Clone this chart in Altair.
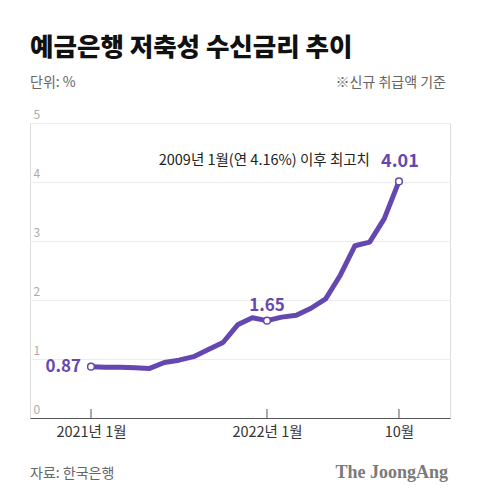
import altair as alt
import pandas as pd

# ---- data ----
months = ["2021-01", "2021-02", "2021-03", "2021-04", "2021-05", "2021-06",
          "2021-07", "2021-08", "2021-09", "2021-10", "2021-11", "2021-12",
          "2022-01", "2022-02", "2022-03", "2022-04", "2022-05", "2022-06",
          "2022-07", "2022-08", "2022-09", "2022-10"]
rates = [0.87, 0.86, 0.86, 0.85, 0.84, 0.94, 0.98, 1.04, 1.16, 1.28, 1.58, 1.70,
         1.65, 1.71, 1.74, 1.86, 2.02, 2.42, 2.92, 2.98, 3.38, 4.01]
tick_months = ["2021-01", "2022-01", "2022-10"]
tick_labels = ["2021년 1월", "2022년 1월", "10월"]
marked_months = ["2021-01", "2022-01", "2022-10"]
marked_labels = ["0.87", "1.65", "4.01"]
y_ticks = [0, 1, 2, 3, 4, 5]

title_text = "예금은행 저축성 수신금리 추이"
unit_text = "단위: %"
note_text = "※신규 취급액 기준"
peak_note = "2009년 1월(연 4.16%) 이후 최고치"
source_text = "자료: 한국은행"
logo_text = "The JoongAng"

PURPLE = "#6447b0"
FONT = "Noto Sans CJK KR"

df = pd.DataFrame({"month": months, "rate": rates})
df["idx"] = range(len(months))
idx_of = {m: i for i, m in enumerate(months)}

tick_vals = [idx_of[m] for m in tick_months]
label_expr = " : ".join(
    [f"datum.value == {v} ? '{l}'" for v, l in zip(tick_vals, tick_labels)]
) + " : ''"

marks_df = pd.DataFrame({
    "idx": [idx_of[m] for m in marked_months],
    "rate": [rates[idx_of[m]] for m in marked_months],
    "label": marked_labels,
})
ticks_df = pd.DataFrame({"idx": tick_vals})

W, H = 420, 295
x_scale = alt.Scale(domain=[-4.16, 24.48], nice=False, zero=False)
y_scale = alt.Scale(domain=[0, 5], nice=False)

x_enc = alt.X("idx:Q", scale=x_scale, title=None,
              axis=alt.Axis(values=tick_vals, labelExpr=label_expr, grid=False,
                            ticks=False, tickSize=0, domainColor="#555555",
                            domainWidth=1.2, labelColor="#333333", labelFontSize=14.5,
                            labelFont=FONT, labelPadding=7))
y_enc = alt.Y("rate:Q", scale=y_scale, title=None,
              axis=alt.Axis(values=y_ticks, format="d", grid=True, gridColor="#ececec",
                            gridWidth=1, domain=False, ticks=False, tickSize=0,
                            labelAlign="left", labelBaseline="bottom",
                            labelPadding=-3, labelOffset=-2, labelColor="#aaaaaa",
                            labelFontSize=12, labelFont=FONT))

line = alt.Chart(df).mark_line(color=PURPLE, strokeWidth=5, strokeJoin="round",
                               strokeCap="round").encode(x=x_enc, y=y_enc)

tick_rules = alt.Chart(ticks_df).mark_rule(color="#555555", strokeWidth=1).encode(
    x=alt.X("idx:Q", scale=x_scale), y=alt.value(H - 9), y2=alt.value(H))

pts = alt.Chart(marks_df).mark_point(filled=True, fill="white", stroke=PURPLE,
                                     strokeWidth=1.5, size=45, opacity=1).encode(
    x=alt.X("idx:Q", scale=x_scale), y=alt.Y("rate:Q", scale=y_scale))

lbl_087 = alt.Chart(marks_df.iloc[[0]]).mark_text(
    align="right", baseline="middle", dx=-10, dy=0, font=FONT, fontSize=17,
    fontWeight="bold", color=PURPLE).encode(
    x=alt.X("idx:Q", scale=x_scale), y=alt.Y("rate:Q", scale=y_scale), text="label:N")
lbl_165 = alt.Chart(marks_df.iloc[[1]]).mark_text(
    align="center", baseline="alphabetic", dx=0, dy=-10, font=FONT, fontSize=17,
    fontWeight="bold", color=PURPLE).encode(
    x=alt.X("idx:Q", scale=x_scale), y=alt.Y("rate:Q", scale=y_scale), text="label:N")
lbl_401 = alt.Chart(marks_df.iloc[[2]]).mark_text(
    align="center", baseline="alphabetic", dx=1, dy=-14, font=FONT, fontSize=18,
    fontWeight="bold", color=PURPLE).encode(
    x=alt.X("idx:Q", scale=x_scale), y=alt.Y("rate:Q", scale=y_scale), text="label:N")
peak = alt.Chart(marks_df.iloc[[2]]).mark_text(
    align="right", baseline="alphabetic", dx=-29, dy=-16, font=FONT, fontSize=14.5,
    color="#222222").encode(
    x=alt.X("idx:Q", scale=x_scale), y=alt.Y("rate:Q", scale=y_scale),
    text=alt.value(peak_note))

def free_text(txt, x, y, **kw):
    return alt.Chart(pd.DataFrame({"t": [txt]})).mark_text(**kw).encode(
        x=alt.value(x), y=alt.value(y), text="t:N")

title = free_text(title_text, 0, -67, align="left", baseline="alphabetic",
                  font=FONT, fontSize=25.5, fontWeight=900, color="#111111")
unit = free_text(unit_text, 0, -36, align="left", baseline="alphabetic",
                 font=FONT, fontSize=14, color="#666666")
note = free_text(note_text, 416, -36, align="right", baseline="alphabetic",
                 font=FONT, fontSize=14, color="#666666")
source = free_text(source_text, 0, 355, align="left", baseline="alphabetic",
                   font=FONT, fontSize=14, color="#666666")
logo = free_text(logo_text, 418, 355, align="right", baseline="alphabetic",
                 font="Liberation Serif", fontSize=18, fontWeight="bold",
                 color="#7a7a7a")

chart = alt.layer(line, tick_rules, pts, lbl_087, lbl_165, lbl_401, peak,
                  title, unit, note, source, logo).properties(
    width=W, height=H,
    autosize=alt.AutoSizeParams(type="none"),
    padding={"left": 22, "top": 115, "right": 22, "bottom": 75},
).configure_view(stroke=None).configure(background="white")

chart.save("out.html", embed_options={"renderer": "svg", "actions": False})
